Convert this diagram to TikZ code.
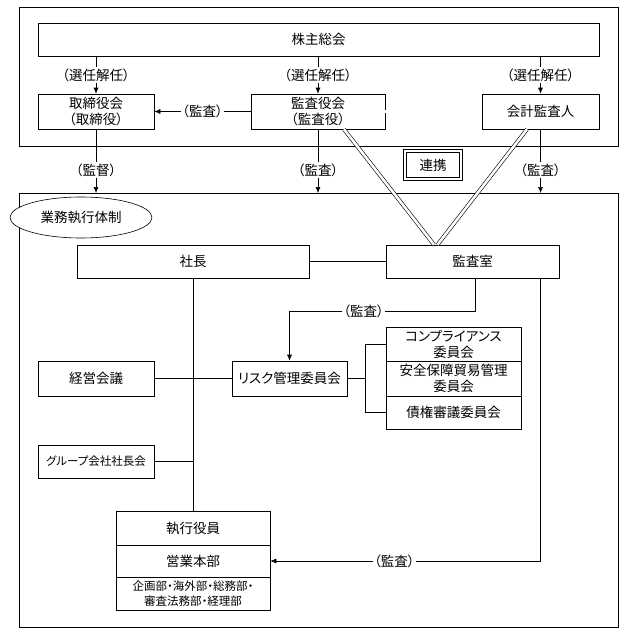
\documentclass[tikz,border=0pt]{standalone}
\usepackage{fontspec}
\setmainfont[RawFeature=+palt]{Noto Sans CJK JP}
\usetikzlibrary{shapes.geometric, arrows.meta}

\tikzset{
  org/.style={draw, rectangle, inner sep=0pt, align=center, font=\fontsize{13.5}{16}\selectfont},
  orgsmall/.style={org, font=\fontsize{11.5}{15}\selectfont},
  lbl/.style={fill=white, inner sep=1.5pt, font=\fontsize{13.5}{15}\selectfont},
  renkei/.style={draw, double, double distance=2pt, inner sep=0pt, font=\fontsize{13.5}{15}\selectfont},
  twin/.style={double, double distance=2.6pt},
  arr/.style={-{Latex[length=6pt, width=5pt]}}
}

\begin{document}
\begin{tikzpicture}[x=1pt, y=-1pt, line width=0.6pt]
\useasboundingbox (0,0) rectangle (624,634);
% frames
\draw (19,7) rectangle (618,146);
\draw (19,193) rectangle (618,627);
\coordinate (lowtop) at (318,193);

% shareholders, board, auditors
\node[org, minimum width=561pt, minimum height=33pt] (sokai) at (318.5,39.5) {株主総会};
\node[org, minimum width=116pt, minimum height=35pt] (torishimari) at (96,111.5) {取締役会\\（取締役）};
\node[org, minimum width=134pt, minimum height=35pt] (kansayaku) at (318,111.5) {監査役会\\（監査役）};
\node[org, minimum width=117pt, minimum height=35pt] (kaikei) at (540.5,111.5) {会計監査人};
\node[renkei, minimum width=56pt, minimum height=28pt] (renkeibox) at (433,165) {連携};

% execution
\node[draw, ellipse, fill=white, inner sep=0pt, minimum width=142pt, minimum height=41pt,
  font=\fontsize{13.5}{15}\selectfont] (gyomu) at (81,217.5) {業務執行体制};
\node[org, minimum width=232pt, minimum height=33pt] (shacho) at (193,261.5) {社長};
\node[org, minimum width=173pt, minimum height=33pt] (kansashitsu) at (472.5,261.5) {監査室};
\node[org, minimum width=116pt, minimum height=35pt] (keiei) at (96,378.5) {経営会議};
\node[org, minimum width=115pt, minimum height=35pt] (risk) at (289.5,378.5) {リスク管理委員会};
\node[org, minimum width=135pt, minimum height=34pt] (comp) at (453.5,344) {コンプライアンス\\委員会};
\node[org, minimum width=135pt, minimum height=35pt] (anzen) at (453.5,378.5) {安全保障貿易管理\\委員会};
\node[org, minimum width=135pt, minimum height=33pt] (saiken) at (453.5,412.5) {債権審議委員会};
\node[orgsmall, minimum width=116pt, minimum height=33pt] (group) at (96,461.5) {グループ会社社長会};
\node[org, minimum width=154pt, minimum height=34pt] (shikkou) at (193,528) {執行役員};
\node[org, minimum width=154pt, minimum height=32pt] (eigyo) at (193,561) {営業本部};
\node[orgsmall, minimum width=154pt, minimum height=33pt] (kikaku) at (193,593.5) {企画部・海外部・総務部・\\審査法務部・経理部};

% connectors, top
\draw[arr] (sokai.south -| torishimari) -- node[lbl]{（選任解任）} (torishimari.north);
\draw[arr] (sokai.south -| kansayaku) -- node[lbl]{（選任解任）} (kansayaku.north);
\draw[arr] (sokai.south -| kaikei) -- node[lbl]{（選任解任）} (kaikei.north);
\draw[arr] (kansayaku.west) -- node[lbl]{（監査）} (torishimari.east);
\draw[twin] (kansayaku.east) -- (kaikei.west);
\draw[arr] (torishimari.south) -- node[lbl, pos=0.64]{（監督）} (torishimari.south |- lowtop);
\draw[arr] (kansayaku.south) -- node[lbl, pos=0.64]{（監査）} (kansayaku.south |- lowtop);
\draw[arr] (kaikei.south) -- node[lbl, pos=0.64]{（監査）} (kaikei.south |- lowtop);
\draw[twin] ([xshift=26pt]kansayaku.south) -- ([xshift=-38.5pt]kansashitsu.north);
\draw[twin] ([xshift=-13.5pt]kaikei.south) -- ([xshift=-35pt]kansashitsu.north);

% connectors, execution
\draw (shacho.east) -- (kansashitsu.west);
\draw (shacho.south) -- (shikkou.north);
\draw (keiei.east) -- (risk.west);
\draw (group.east) -- (group.east -| shacho.south);
\draw (comp.west) -- ++(-20,0) coordinate (brk) |- (saiken.west);
\draw (risk.east) -- (risk.east -| brk);
\draw[arr] ([xshift=2.5pt]kansashitsu.south) -- ++(0,33) -| node[lbl, pos=0.3]{（監査）} (risk.north);
\draw[arr] ([xshift=67.5pt]kansashitsu.south) |- node[lbl, pos=0.77]{（監査）} (eigyo.east);
\end{tikzpicture}
\end{document}
